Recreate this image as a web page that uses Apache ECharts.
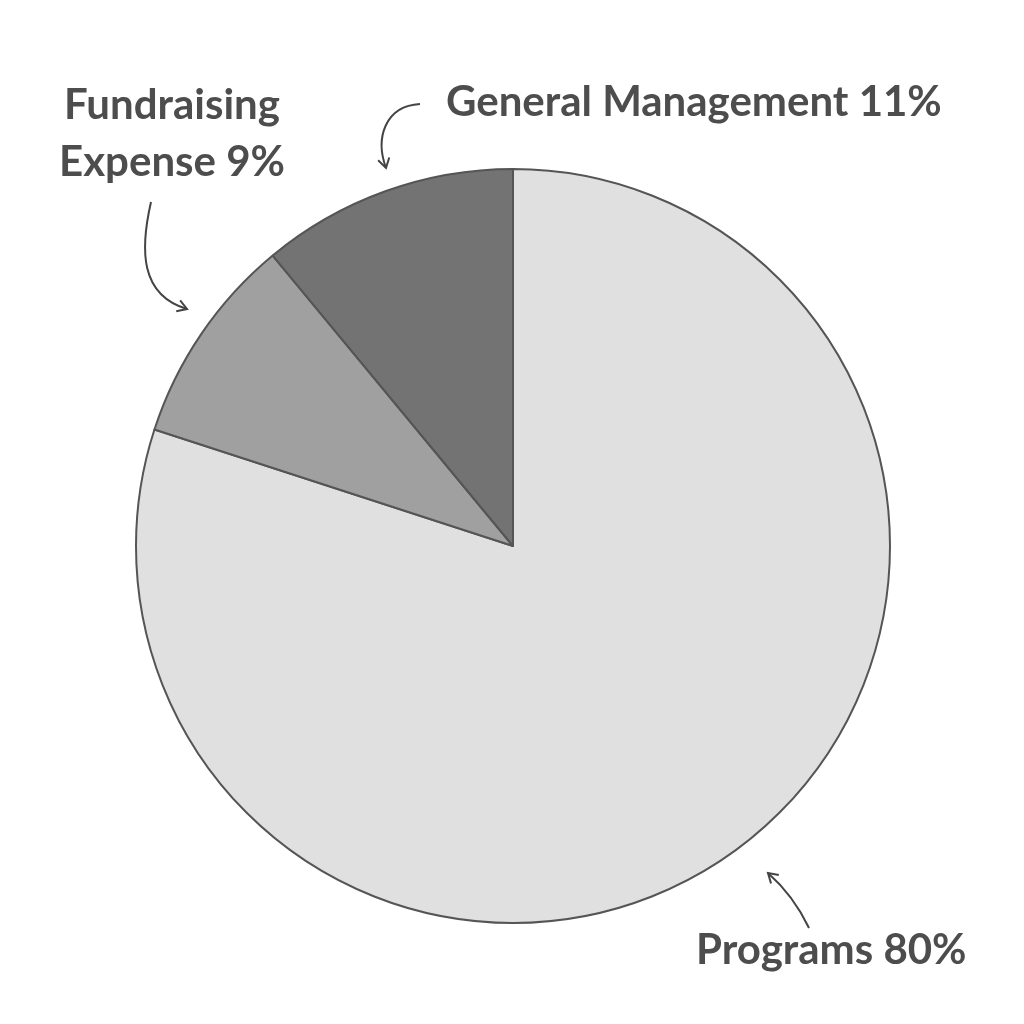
<!DOCTYPE html>
<html><head><meta charset="utf-8">
<script src="https://cdn.jsdelivr.net/npm/echarts@6/dist/echarts.min.js"></script>
<style>html,body{margin:0;padding:0;background:#fff}#c{width:1024px;height:1024px}</style>
</head><body><div id="c"></div>
<script>
const categories = ['Programs', 'Fundraising Expense', 'General Management'];
const values = [80, 9, 11];
const colors = ['#e0e0e0', '#a0a0a0', '#737373'];
const labelTexts = ['Programs 80%', 'Fundraising\nExpense 9%', 'General Management 11%'];

const chart = echarts.init(document.getElementById('c'));
const txtColor = '#4d4d4d';
const font = 'bold 42px Lato';
function arrowHead(x, y, ang) {
  const L = 11, a = 0.55;
  return [[x - L * Math.cos(ang - a), y - L * Math.sin(ang - a)], [x, y], [x - L * Math.cos(ang + a), y - L * Math.sin(ang + a)]];
}
const lineStyle = { stroke: '#444', lineWidth: 2, fill: null };
chart.setOption({
  backgroundColor: '#fff',
  animation: false,
  series: [{
    type: 'pie',
    center: [513, 546],
    radius: 377,
    startAngle: 90,
    clockwise: true,
    label: { show: false },
    labelLine: { show: false },
    itemStyle: { borderColor: '#555', borderWidth: 2 },
    data: categories.map((c, i) => ({ name: c, value: values[i], itemStyle: { color: colors[i] } }))
  }],
  graphic: [
    { type: 'text', left: 446, top: 81, style: { text: labelTexts[2], font: font, fill: txtColor } },
    { type: 'text', x: 172, y: 77, style: { text: labelTexts[1], font: font, fill: txtColor, align: 'center', lineHeight: 57 } },
    { type: 'text', left: 696, top: 929, style: { text: labelTexts[0], font: font, fill: txtColor } },
    { type: 'bezierCurve', shape: { x1: 420, y1: 104, cpx1: 385, cpy1: 106, cpx2: 375, cpy2: 138, x2: 386, y2: 168 }, style: lineStyle },
    { type: 'polyline', shape: { points: arrowHead(386, 168, Math.PI / 2 - 0.25) }, style: lineStyle },
    { type: 'bezierCurve', shape: { x1: 151, y1: 202, cpx1: 140, cpy1: 250, cpx2: 140, cpy2: 295, x2: 187, y2: 309 }, style: lineStyle },
    { type: 'polyline', shape: { points: arrowHead(187, 309, 0.35) }, style: lineStyle },
    { type: 'bezierCurve', shape: { x1: 809, y1: 928, cpx1: 798, cpy1: 905, cpx2: 785, cpy2: 888, x2: 768, y2: 873 }, style: lineStyle },
    { type: 'polyline', shape: { points: arrowHead(768, 873, -2.4) }, style: lineStyle }
  ]
});
</script></body></html>
